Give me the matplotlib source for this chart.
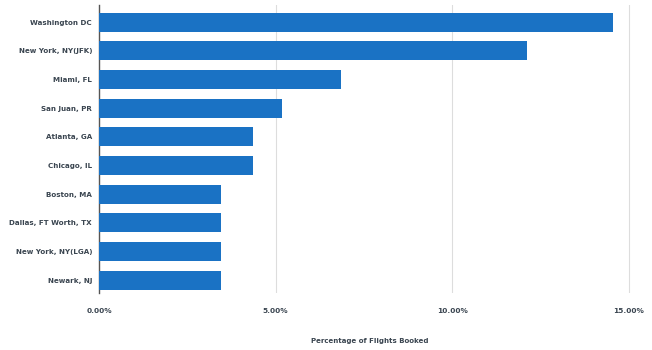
import matplotlib.pyplot as plt
from matplotlib.ticker import FuncFormatter

airports = ['Washington DC', 'New York, NY(JFK)', 'Miami, FL', 'San Juan, PR',
            'Atlanta, GA', 'Chicago, IL', 'Boston, MA', 'Dallas, FT Worth, TX',
            'New York, NY(LGA)', 'Newark, NJ']
pct_booked = [14.55, 12.1, 6.85, 5.17, 4.35, 4.35, 3.45, 3.45, 3.45, 3.45]
x_ticks = [0, 5, 10, 15]

bar_color = '#1a72c4'
text_color = '#3a4550'

fig = plt.figure(figsize=(6.52, 3.5), dpi=100)
ax = fig.add_axes([99 / 652, 57 / 350, 541 / 652, 288 / 350])

pos = list(range(len(airports)))
ax.barh(pos, pct_booked, height=0.66, color=bar_color, zorder=3)

ax.set_ylim(9.45, -0.6)
ax.set_xlim(0, 15.31)
ax.set_yticks(pos)
ax.set_yticklabels(airports, fontsize=5.1, color=text_color, fontweight='bold')
ax.set_xticks(x_ticks)
ax.xaxis.set_major_formatter(FuncFormatter(lambda v, _: f'{v:.2f}%'))
ax.tick_params(axis='x', labelsize=5.3, labelcolor=text_color, length=0, pad=11)
ax.tick_params(axis='y', length=0, pad=5)
for lbl in ax.get_xticklabels():
    lbl.set_fontweight('bold')

ax.grid(axis='x', color='#dddddd', linewidth=0.8, zorder=0)
for side in ['top', 'right', 'bottom']:
    ax.spines[side].set_visible(False)
ax.spines['left'].set_color('#555555')
ax.spines['left'].set_linewidth(1.0)

ax.set_xlabel('Percentage of Flights Booked', fontsize=5, color=text_color,
              fontweight='bold', labelpad=17)

fig.savefig('out.png', dpi=100)
plt.close(fig)
